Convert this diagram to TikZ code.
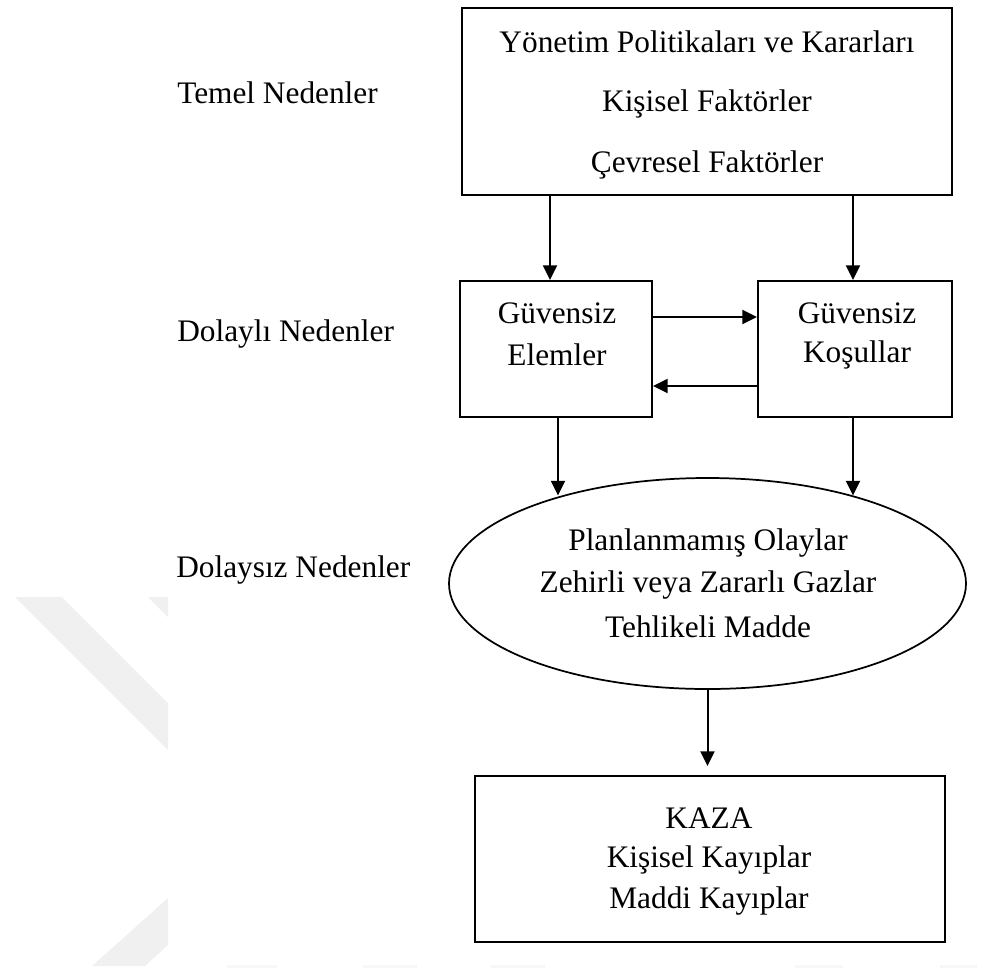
\documentclass[tikz,border=0pt]{standalone}
\usepackage{fontspec}
\setmainfont{Liberation Serif}
\usetikzlibrary{arrows.meta,calc,shapes.geometric}
\begin{document}
\begin{tikzpicture}[x=0.75pt,y=-0.75pt,
  box/.style={draw=black,line width=1.6pt,rectangle,inner sep=0pt},
  ell/.style={draw=black,line width=1.3pt,ellipse,inner sep=0pt},
  txt/.style={font=\fontsize{23.5}{28}\selectfont,inner sep=0pt,text=black},
  arr/.style={line width=1.5pt,-{Triangle[length=11pt,width=10.5pt]}},
  wm/.style={fill=black!6,draw=none},
  wmb/.style={fill=black!3,draw=none}]
\useasboundingbox (0,0) rectangle (981,968);
% faint watermark
\fill[wm] (15,597) -- (62,597) -- (168,703) -- (168,750) -- cycle;
\fill[wm] (148,597) -- (168,597) -- (168,617) -- cycle;
\fill[wm] (92,966) -- (168,898) -- (168,945) -- (145,966) -- cycle;
\fill[wmb] (227,965) rectangle (277,968);
\fill[wmb] (363,965) rectangle (417,968);
\fill[wmb] (490,965) rectangle (545,968);
\fill[wmb] (795,965) rectangle (843,968);
\fill[wmb] (940,965) rectangle (977,968);
% level labels
\node[txt,anchor=west] (lt) at (177,93) {Temel Nedenler};
\node[txt,anchor=west] (ld) at (177,334) {Dolaylı Nedenler};
\node[txt,anchor=west] (lz) at (176,570) {Dolaysız Nedenler};
% boxes
\node[box,minimum width=490*0.75pt,minimum height=187*0.75pt] (top) at (707,101.5) {};
\node[txt] (t1) at (707,42) {Yönetim Politikaları ve Kararları};
\node[txt] (t2) at (707,104) {Kişisel Faktörler};
\node[txt] (t3) at (707,165) {Çevresel Faktörler};
\node[box,minimum width=192*0.75pt,minimum height=136*0.75pt] (ue) at (556,349) {};
\node[txt] (ue1) at (557,313) {Güvensiz};
\node[txt] (ue2) at (557,355) {Elemler};
\node[box,minimum width=194*0.75pt,minimum height=136*0.75pt] (uk) at (855,349) {};
\node[txt] (uk1) at (857,313) {Güvensiz};
\node[txt] (uk2) at (857,355) {Koşullar};
\node[ell,minimum width=517*0.75pt,minimum height=211*0.75pt] (el) at (707.5,583.5) {};
\node[txt] (e1) at (708,543) {Planlanmamış Olaylar};
\node[txt] (e2) at (708,585) {Zehirli veya Zararlı Gazlar};
\node[txt] (e3) at (708,627) {Tehlikeli Madde};
\node[box,minimum width=470*0.75pt,minimum height=166*0.75pt] (kz) at (710,859) {};
\node[txt] (k1) at (709,818) {KAZA};
\node[txt] (k2) at (709,860) {Kişisel Kayıplar};
\node[txt] (k3) at (709,901) {Maddi Kayıplar};
% connectors
\draw[arr] ($(top.south)+(-157,0)$) -- ($(ue.north)+(-6,0)$);
\draw[arr] ($(top.south)+(146,0)$) -- ($(uk.north)+(-2,0)$);
\draw[arr] ($(ue.east)+(0,-32)$) -- ($(uk.west)+(0,-32)$);
\draw[arr] ($(uk.west)+(0,37)$) -- ($(ue.east)+(0,37)$);
\draw[arr] ($(ue.south)+(2,0)$) -- ($(el.center)+(-149.5,-88)$);
\draw[arr] ($(uk.south)+(-2,0)$) -- ($(el.center)+(145.5,-88)$);
\draw[arr] (el.south) -- ($(el.south |- kz.north)+(0,-9)$);
\end{tikzpicture}
\end{document}
